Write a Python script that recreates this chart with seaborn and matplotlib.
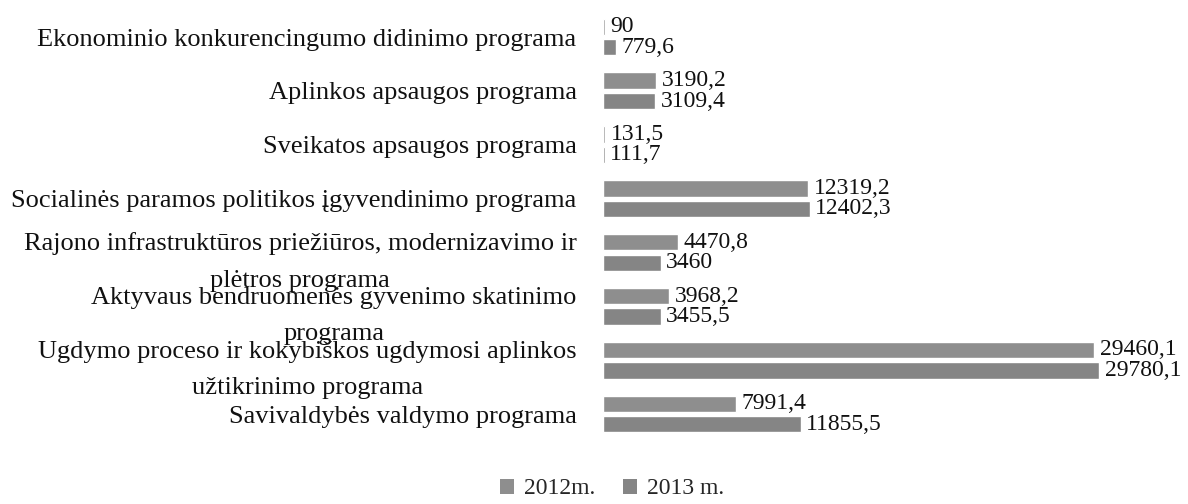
import matplotlib
matplotlib.use("Agg")
import matplotlib.pyplot as plt
import seaborn as sns
import pandas as pd
from matplotlib.patches import Patch

programs = [
    "Ekonominio konkurencingumo didinimo programa",
    "Aplinkos apsaugos programa",
    "Sveikatos apsaugos programa",
    "Socialinės paramos politikos įgyvendinimo programa",
    "Rajono infrastruktūros priežiūros, modernizavimo ir\nplėtros programa",
    "Aktyvaus bendruomenės gyvenimo skatinimo\nprograma",
    "Ugdymo proceso ir kokybiškos ugdymosi aplinkos\nužtikrinimo programa",
    "Savivaldybės valdymo programa",
]
vals_2012 = [90, 3190.2, 131.5, 12319.2, 4470.8, 3968.2, 29460.1, 7991.4]
vals_2013 = [779.6, 3109.4, 111.7, 12402.3, 3460, 3455.5, 29780.1, 11855.5]
series = ["2012m.", "2013 m."]
colors = ["#8e8e8e", "#858585"]

df = pd.DataFrame({
    "program": programs * 2,
    "value": vals_2012 + vals_2013,
    "year": [series[0]] * len(programs) + [series[1]] * len(programs),
})

sns.set_theme(style="white")
plt.rcParams["font.family"] = ["Liberation Serif", "DejaVu Serif"]

FS_LAB = 19
FS_VAL = 17
fig = plt.figure(figsize=(11.88, 5.04), dpi=100)
ax = fig.add_axes([603 / 1188, 0.125, 500 / 1188, 0.855])
sns.barplot(data=df, y="program", x="value", hue="year", orient="h",
            palette=colors, width=0.76, gap=0.2, ax=ax, legend=False,
            order=programs, hue_order=series)

for cont in ax.containers:
    labels = [f"{v:g}".replace(".", ",") for v in cont.datavalues]
    ax.bar_label(cont, labels=labels, padding=4, fontsize=FS_VAL, color="#111111")

ax.set_xlim(0, 30000)
ax.set_xticks([])
ax.set_xlabel("")
ax.set_ylabel("")
for s in ax.spines.values():
    s.set_visible(False)
ax.tick_params(axis="y", left=False, pad=13, labelsize=FS_LAB, labelcolor="#111111")
for t in ax.get_yticklabels():
    t.set_multialignment("center")
    t.set_linespacing(1.85)

handles = [Patch(facecolor=c, edgecolor="none") for c in colors]
fig.legend(handles, series, loc="center", bbox_to_anchor=(612 / 1188, 0.03),
           ncol=2, frameon=False, fontsize=FS_VAL, handlelength=0.6, handleheight=0.6,
           handletextpad=0.4, columnspacing=1.2)

fig.savefig("out.png", dpi=100)
